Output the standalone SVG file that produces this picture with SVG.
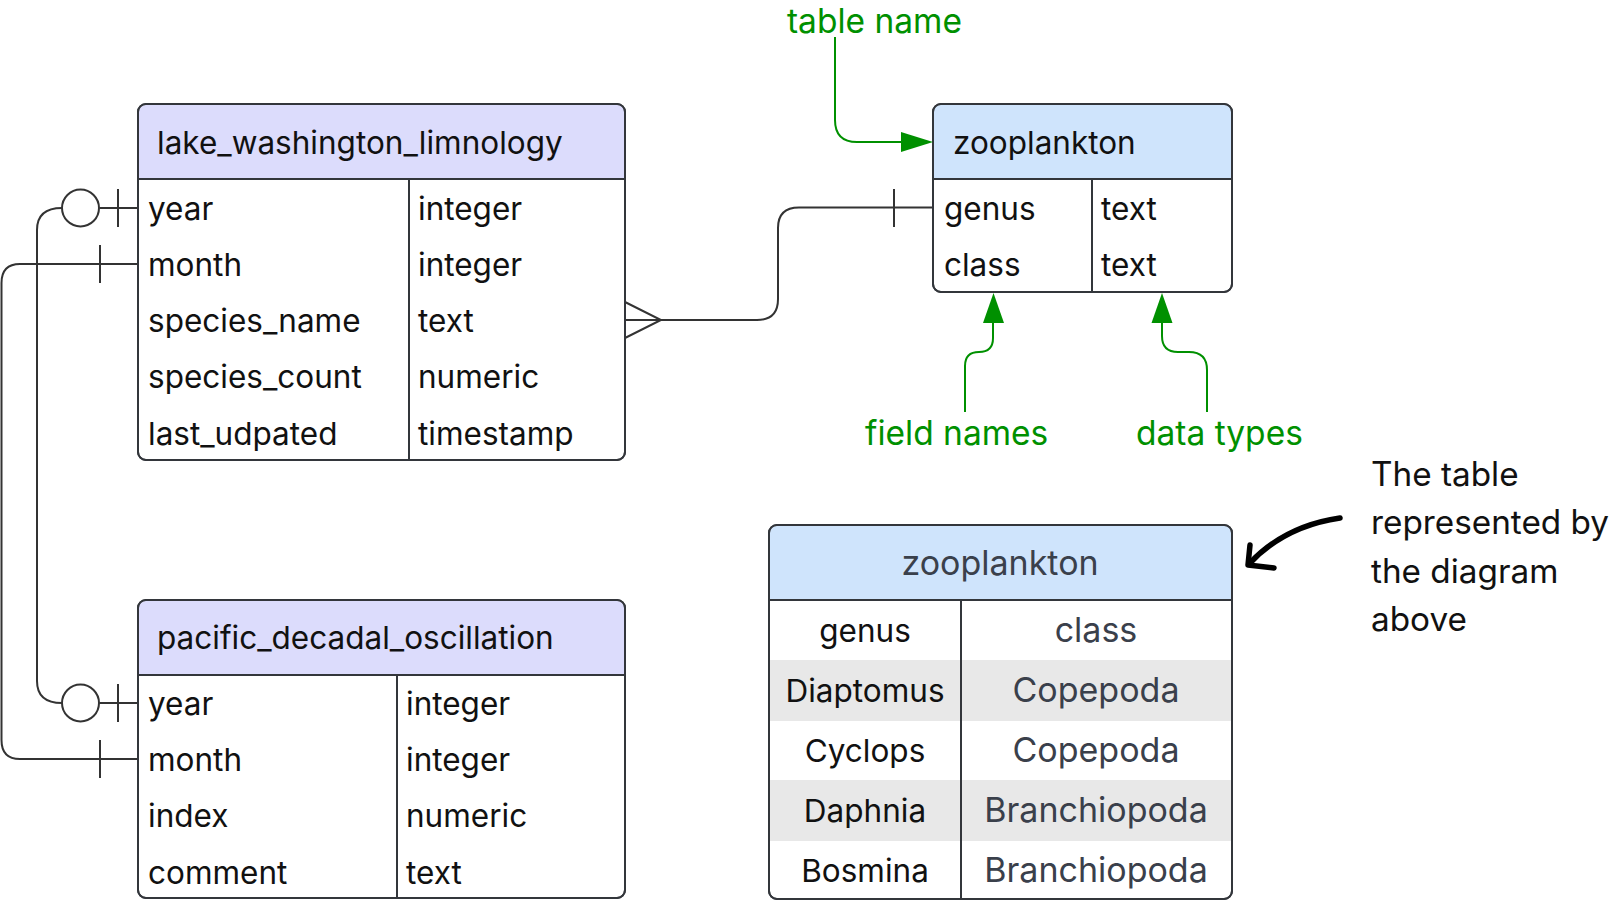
<svg xmlns="http://www.w3.org/2000/svg" width="1624" height="900" viewBox="0 0 1624 900">
<style>
text{font-family:Inter,"Liberation Sans",sans-serif;}
.t{font-size:31.5px;fill:#111;}
.box{fill:#fff;stroke:#33363b;stroke-width:2;}
.sep{stroke:#33363b;stroke-width:2;fill:none;}
.conn{stroke:#333;stroke-width:2;fill:none;}
.g{font-size:33.5px;fill:#009000;}
.gl{stroke:#009000;stroke-width:2;fill:none;}
.ga{fill:#009000;}
.c{text-anchor:middle;}
.sl{fill:#3a404b;font-size:34px;}
.note{font-size:33.3px;fill:#111;}
</style>
<rect width="1624" height="900" fill="#fff"/>

<g id="connectors">
  <!-- lake.year to pacific.year -->
  <path class="conn" d="M138 208 H99.5"/>
  <circle class="conn" cx="80.5" cy="208" r="18.5"/>
  <path class="conn" d="M118 189 V227"/>
  <path class="conn" d="M62 208 Q37 208 37 230 V681 Q37 703 62 703"/>
  <circle class="conn" cx="80.5" cy="703" r="18.5"/>
  <path class="conn" d="M99.5 703 H138"/>
  <path class="conn" d="M118 684 V722"/>
  <!-- lake.month to pacific.month -->
  <path class="conn" d="M138 264 H20 Q1.5 264 1.5 283 V740 Q1.5 759 20 759 H138"/>
  <path class="conn" d="M100 245 V283"/>
  <path class="conn" d="M100 740 V778"/>
  <!-- lake.species_name to zooplankton.genus -->
  <path class="conn" d="M625 320 H757 Q778 320 778 299 V228 Q778 207.5 799 207.5 H933"/>
  <path class="conn" d="M625 302 L661 320 L625 338"/>
  <path class="conn" d="M894 189 V227"/>
</g>

<g id="lake_washington_limnology">
  <rect class="box" x="138" y="104" width="487" height="356" rx="8"/>
  <path d="M139 179 V112 Q139 105 146 105 H617 Q624 105 624 112 V179 Z" fill="#dcdcfc"/>
  <path class="sep" d="M138 179 H625 M409 179 V460"/>
  <rect x="138" y="104" width="487" height="356" rx="8" fill="none" stroke="#33363b" stroke-width="2"/>
  <text class="t" x="157" y="154">lake_washington_limnology</text>
  <text class="t" x="148" y="220">year</text><text class="t" x="418" y="220">integer</text>
  <text class="t" x="148" y="276">month</text><text class="t" x="418" y="276">integer</text>
  <text class="t" x="148" y="332">species_name</text><text class="t" x="418" y="332">text</text>
  <text class="t" x="148" y="388">species_count</text><text class="t" x="418" y="388">numeric</text>
  <text class="t" x="148" y="445">last_udpated</text><text class="t" x="418" y="445">timestamp</text>
</g>

<g id="pacific_decadal_oscillation">
  <rect class="box" x="138" y="600" width="487" height="298" rx="8"/>
  <path d="M139 675 V608 Q139 601 146 601 H617 Q624 601 624 608 V675 Z" fill="#dcdcfc"/>
  <path class="sep" d="M138 675 H625 M397 675 V898"/>
  <rect x="138" y="600" width="487" height="298" rx="8" fill="none" stroke="#33363b" stroke-width="2"/>
  <text class="t" x="157" y="649">pacific_decadal_oscillation</text>
  <text class="t" x="148" y="715">year</text><text class="t" x="406" y="715">integer</text>
  <text class="t" x="148" y="771">month</text><text class="t" x="406" y="771">integer</text>
  <text class="t" x="148" y="827">index</text><text class="t" x="406" y="827">numeric</text>
  <text class="t" x="148" y="884">comment</text><text class="t" x="406" y="884">text</text>
</g>

<g id="zooplankton">
  <rect class="box" x="933" y="104" width="299" height="188" rx="8"/>
  <path d="M934 179 V112 Q934 105 941 105 H1224 Q1231 105 1231 112 V179 Z" fill="#cfe4fc"/>
  <path class="sep" d="M933 179 H1232 M1092 179 V292"/>
  <rect x="933" y="104" width="299" height="188" rx="8" fill="none" stroke="#33363b" stroke-width="2"/>
  <text class="t" x="953" y="154">zooplankton</text>
  <text class="t" x="944" y="220">genus</text><text class="t" x="1101" y="220">text</text>
  <text class="t" x="944" y="276">class</text><text class="t" x="1101" y="276">text</text>
</g>

<g id="annotations">
  <text class="g" x="787" y="33">table name</text>
  <path class="gl" d="M835 37 V120 Q835 142 857 142 H903"/>
  <polygon class="ga" points="901,132 933,142 901,152"/>
  <text class="g" x="865" y="445">field names</text>
  <path class="gl" d="M965 412 V366 Q965 352 979 352 Q993 352 993 338 V321"/>
  <polygon class="ga" points="983,323 993.5,293 1004,323"/>
  <text class="g" x="1136" y="445">data types</text>
  <path class="gl" d="M1207 412 V370 Q1207 352 1189 352 H1178 Q1162 352 1162 336 V321"/>
  <polygon class="ga" points="1151.5,323 1162,293 1172.5,323"/>
</g>

<g id="zooplankton_table">
  <rect class="box" x="769" y="525" width="463" height="374" rx="8"/>
  <path d="M770 600 V533 Q770 526 777 526 H1224 Q1231 526 1231 533 V600 Z" fill="#cfe4fc"/>
  <rect x="770" y="660" width="461" height="61" fill="#e8e8e8"/>
  <rect x="770" y="780" width="461" height="61" fill="#e8e8e8"/>
  <path class="sep" d="M769 600 H1232 M961 600 V899"/>
  <rect x="769" y="525" width="463" height="374" rx="8" fill="none" stroke="#33363b" stroke-width="2"/>
  <text class="t c sl" x="1000" y="575">zooplankton</text>
  <text class="t c" x="865" y="642">genus</text><text class="t c sl" x="1096" y="642">class</text>
  <text class="t c" x="865" y="702">Diaptomus</text><text class="t c sl" x="1096" y="702">Copepoda</text>
  <text class="t c" x="865" y="762">Cyclops</text><text class="t c sl" x="1096" y="762">Copepoda</text>
  <text class="t c" x="865" y="822">Daphnia</text><text class="t c sl" x="1096" y="822">Branchiopoda</text>
  <text class="t c" x="865" y="882">Bosmina</text><text class="t c sl" x="1096" y="882">Branchiopoda</text>
</g>

<g id="note">
  <path d="M1340 518 Q1285 526 1250 563" stroke="#000" stroke-width="5.5" fill="none" stroke-linecap="round"/>
  <path d="M1250 545 L1248 565 L1274 568" stroke="#000" stroke-width="5.5" fill="none" stroke-linecap="round" stroke-linejoin="round"/>
  <text class="note" x="1371" y="486">The table</text>
  <text class="note" x="1371" y="534">represented by</text>
  <text class="note" x="1371" y="583">the diagram</text>
  <text class="note" x="1371" y="631">above</text>
</g>
</svg>
